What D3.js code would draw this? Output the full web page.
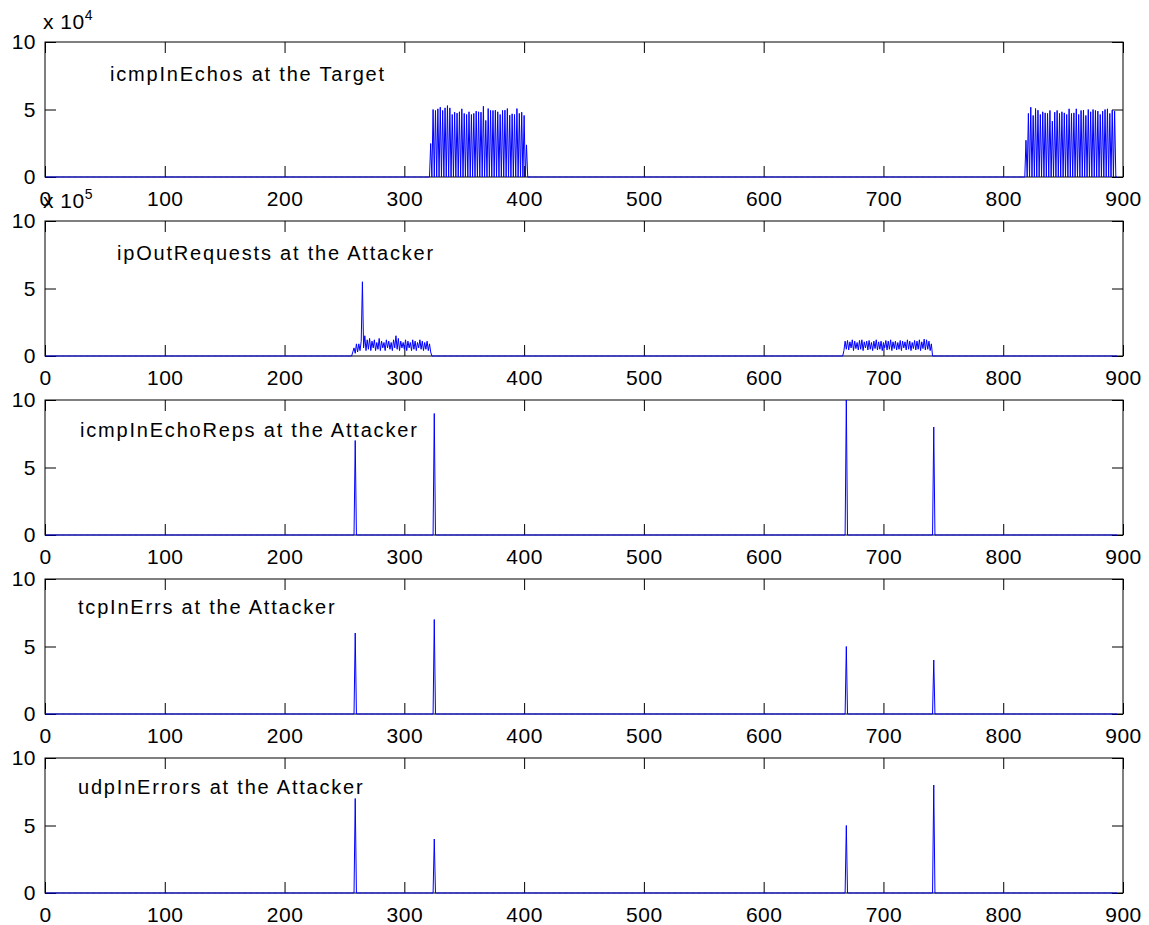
<!DOCTYPE html>
<html>
<head>
<meta charset="utf-8">
<script src="https://cdn.jsdelivr.net/npm/d3@7"></script>
<style>
  body { margin: 0; background: #fff; }
  svg text { font-family: "Liberation Sans", Arial, Helvetica, sans-serif; fill: #000; }
</style>
</head>
<body>
<div id="graf"></div>
<script>
// I. Datos
xTicks = [0, 100, 200, 300, 400, 500, 600, 700, 800, 900]
yTicks = [0, 5, 10]
lastSample = 895

titles = ['icmpInEchos at the Target', 'ipOutRequests at the Attacker',
          'icmpInEchoReps at the Attacker', 'tcpInErrs at the Attacker',
          'udpInErrors at the Attacker']
exponents = [4, 5, null, null, null]

// icmpInEchos: picos cada 2 muestras, ceros entre ellos
echoBurst1Start = 322
echoBurst1Peaks = [24800, 50000, 49300, 50500, 51700, 49300, 51200, 52900, 51200, 46300,
                   48000, 47300, 48300, 50500, 47100, 46300, 48300, 46300, 47100, 48800,
                   48300, 48000, 52400, 41900, 50700, 49300, 49300, 49500, 48300, 46300,
                   49300, 49500, 50700, 45800, 46800, 46300, 50700, 47100, 48000, 45600, 23800]
echoBurst2Start = 819
echoBurst2Peaks = [27200, 47100, 51700, 45600, 50700, 49500, 46300, 48300, 47500, 47100,
                   49300, 41400, 48000, 49300, 47100, 48300, 47500, 46300, 50500, 47100,
                   47500, 50500, 46300, 49300, 49500, 45600, 50000, 48300, 50000, 49300,
                   48800, 46300, 48800, 50000, 50500, 47100, 49500, 48800]

// ipOutRequests: una muestra por unidad
ipBurst1Start = 256
ipBurst1 = [0, 30000, 60000, 20000, 90000, 30000, 90000, 40000, 110000, 550000,
            60000, 150000, 40000, 120000, 50000, 130000, 40000, 110000, 60000, 120000,
            40000, 100000, 50000, 130000, 40000, 110000, 60000, 100000, 40000, 120000,
            60000, 110000, 50000, 100000, 40000, 120000, 60000, 150000, 50000, 130000,
            40000, 110000, 60000, 100000, 50000, 120000, 40000, 110000, 60000, 100000,
            40000, 120000, 50000, 110000, 40000, 100000, 60000, 120000, 50000, 110000,
            40000, 100000, 50000, 110000, 40000, 90000, 30000, 0]
ipBurst2Start = 667
ipBurst2 = [40000, 110000, 50000, 115000, 45000, 105000, 60000, 120000, 40000, 110000,
            55000, 100000, 45000, 115000, 50000, 120000, 40000, 105000, 60000, 110000,
            45000, 115000, 50000, 100000, 40000, 110000, 55000, 120000, 45000, 105000,
            50000, 110000, 40000, 100000, 60000, 115000, 45000, 110000, 50000, 120000,
            40000, 105000, 55000, 110000, 45000, 100000, 50000, 115000, 40000, 110000,
            60000, 105000, 45000, 120000, 50000, 110000, 40000, 100000, 55000, 115000,
            45000, 110000, 50000, 120000, 40000, 105000, 55000, 125000, 45000, 120000,
            50000, 110000, 40000, 90000, 0]

// picos aislados
spikeTimes = [259, 325, 669, 742]
echoRepsValues = [7, 9, 10, 8]
tcpErrValues = [6, 7, 5, 4]
udpErrValues = [7, 4, 5, 8]

// II. Configuración
ancho_total = 1149
alto_total = 925
left = 45
right = 1123
panelTops = [42, 221, 400, 579, 758]
panelAlto = 135
titleX = [110, 117, 80, 78, 78]
titleDy = [39, 39, 37, 35, 36]

svg = d3.select('#graf').append('svg')
        .attr('width', ancho_total)
        .attr('height', alto_total)

x = d3.scaleLinear().domain([0, 900]).range([left, right])

function zeros() {
  return d3.range(0, lastSample + 1).map(t => ({ t: t, v: 0 }))
}

function seriesEchos() {
  s = zeros()
  echoBurst1Peaks.forEach((v, i) => { s[echoBurst1Start + 2 * i].v = v })
  echoBurst2Peaks.forEach((v, i) => { s[echoBurst2Start + 2 * i].v = v })
  return s
}

function seriesIp() {
  s = zeros()
  ipBurst1.forEach((v, i) => { s[ipBurst1Start + i].v = v })
  ipBurst2.forEach((v, i) => { s[ipBurst2Start + i].v = v })
  return s
}

function seriesSpikes(values) {
  s = zeros()
  spikeTimes.forEach((t, i) => { s[t].v = values[i] })
  return s
}

panels = [
  { data: seriesEchos(), mult: 1e4 },
  { data: seriesIp(), mult: 1e5 },
  { data: seriesSpikes(echoRepsValues), mult: 1 },
  { data: seriesSpikes(tcpErrValues), mult: 1 },
  { data: seriesSpikes(udpErrValues), mult: 1 }
]

// III. render
function render() {
  panels.forEach((p, i) => {
    top_ = panelTops[i]
    bottom = top_ + panelAlto

    y = d3.scaleLinear().domain([0, 10 * p.mult]).range([bottom, top_])
    yLab = d3.scaleLinear().domain([0, 10]).range([bottom, top_])

    g = svg.append('g')

    // marco
    g.append('rect')
      .attr('x', left).attr('y', top_)
      .attr('width', right - left).attr('height', panelAlto)
      .attr('fill', 'none').attr('stroke', '#000').attr('stroke-width', 1)

    // ejes
    xAxis = d3.axisBottom(x).tickValues(xTicks).tickSizeInner(-11).tickSizeOuter(0).tickPadding(14)
    g.append('g').attr('class', 'x axis')
      .attr('transform', `translate(0,${bottom})`)
      .call(xAxis)

    g.append('g')
      .attr('transform', `translate(0,${top_})`)
      .call(d3.axisTop(x).tickValues(xTicks).tickSizeInner(-11).tickSizeOuter(0).tickFormat(''))

    g.append('g').attr('class', 'y axis')
      .attr('transform', `translate(${left},0)`)
      .call(d3.axisLeft(yLab).tickValues(yTicks).tickSizeInner(-11).tickSizeOuter(0).tickPadding(9))

    g.append('g')
      .attr('transform', `translate(${right},0)`)
      .call(d3.axisRight(yLab).tickValues(yTicks).tickSizeInner(-11).tickSizeOuter(0).tickFormat(''))

    g.selectAll('.domain').remove()
    g.selectAll('.tick line').attr('stroke', '#000')
    g.selectAll('.tick text')
      .attr('font-size', '21px')
      .attr('font-family', '"Liberation Sans", Arial, sans-serif')
      .style('letter-spacing', '0.5px')
      .attr('fill', '#000')

    // línea
    line = d3.line().x(d => x(d.t)).y(d => y(d.v))
    g.append('path')
      .datum(p.data)
      .attr('d', line)
      .attr('fill', 'none')
      .attr('stroke', '#0000ff')
      .attr('stroke-width', 1)

    // título
    g.append('text')
      .attr('x', titleX[i])
      .attr('y', top_ + titleDy[i])
      .attr('font-size', '20px')
      .style('letter-spacing', '1.8px')
      .text(titles[i])

    // exponente
    if (exponents[i] !== null) {
      ex = g.append('text')
        .attr('x', 43)
        .attr('y', top_ - 13)
        .attr('font-size', '21px')
        .style('letter-spacing', '0.5px')
      ex.append('tspan').text('x 10')
      ex.append('tspan')
        .attr('font-size', '14px')
        .attr('dy', '-9')
        .text(exponents[i])
    }
  })
}

render()
</script>
</body>
</html>
